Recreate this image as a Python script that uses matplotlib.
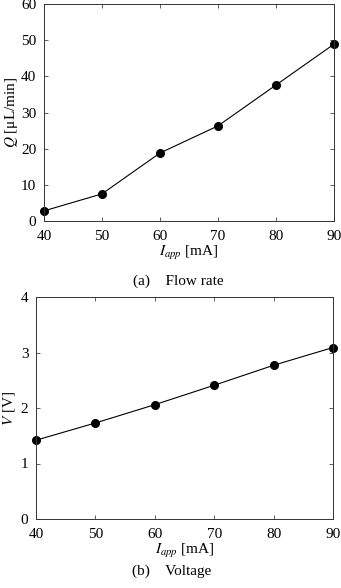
import matplotlib
matplotlib.use("Agg")
from matplotlib import pyplot as plt

# Data
current = [40, 50, 60, 70, 80, 90]            # I_app [mA]
flow = [2.8, 7.5, 18.8, 26.3, 37.6, 48.9]     # Q [uL/min]
flow_err = [0.3, 0.4, 0.4, 0.4, 0.4, 0.9]
voltage = [1.42, 1.73, 2.06, 2.41, 2.77, 3.09]  # V [V]

plt.rcParams['font.family'] = ['Liberation Serif', 'DejaVu Serif']
plt.rcParams['mathtext.fontset'] = 'stix'

fig = plt.figure(figsize=(3.41, 5.88), dpi=100)
W, H = 341, 588

def setup(ax, ylim, yticks):
    ax.set_xlim(40, 90)
    ax.set_ylim(*ylim)
    ax.set_xticks(current)
    ax.set_yticks(yticks)
    ax.tick_params(direction='in', top=True, right=True, labelsize=11,
                   length=3, width=0.6, color='#444444')
    ax.tick_params(axis='x', pad=6.5)
    ax.tick_params(axis='y', pad=5.5)
    for s in ax.spines.values():
        s.set_linewidth(0.7)
        s.set_color('#333333')

# (a) flow rate
ax1 = fig.add_axes([44 / W, 1 - 221 / H, 290 / W, 217 / H])
ax1.errorbar(current, flow, yerr=flow_err, color='black', lw=0.8,
             marker='o', ms=5.5, capsize=0, elinewidth=0.8, clip_on=False)
setup(ax1, (0, 60), [0, 10, 20, 30, 40, 50, 60])
ax1.set_ylabel(r'$Q$ [μL/min]', fontsize=11, labelpad=1)
ax1.set_xlabel(r'$I_{app}$ [mA]', fontsize=11, labelpad=1)
fig.text(178 / W, 1 - 281 / H, '(a)    Flow rate', ha='center', va='center',
         fontsize=11)

# (b) voltage
ax2 = fig.add_axes([36 / W, 1 - 519 / H, 297 / W, 222 / H])
ax2.plot(current, voltage, color='black', lw=0.8, marker='o', ms=5.5,
         clip_on=False)
setup(ax2, (0, 4), [0, 1, 2, 3, 4])
ax2.set_ylabel(r'$V$ [V]', fontsize=11, labelpad=3)
ax2.set_xlabel(r'$I_{app}$ [mA]', fontsize=11, labelpad=1)
fig.text(172 / W, 1 - 571 / H, '(b)    Voltage', ha='center', va='center',
         fontsize=11)

plt.savefig('out.png', dpi=100)
